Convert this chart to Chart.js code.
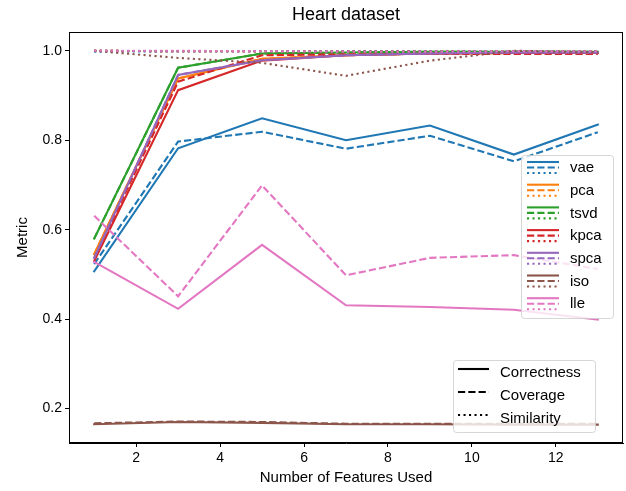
<!DOCTYPE html>
<html>
<head>
<meta charset="utf-8">
<script src="https://cdn.jsdelivr.net/npm/chart.js@4.4.1/dist/chart.umd.min.js"></script>
<style>
html,body{margin:0;padding:0;background:#fff;}
#wrap{width:626px;height:491px;position:relative;}
</style>
</head>
<body>
<div id="wrap"><canvas id="c" width="626" height="491"></canvas></div>
<script>
const xValues = [1, 3, 5, 7, 9, 11, 13];
const methods = ["vae", "pca", "tsvd", "kpca", "spca", "iso", "lle"];
const metrics = ["Correctness", "Coverage", "Similarity"];
const xTicks = [2, 4, 6, 8, 10, 12];
const yTicks = [0.2, 0.4, 0.6, 0.8, 1.0];

const vaeCorrectness = [0.507, 0.782, 0.849, 0.800, 0.833, 0.768, 0.835];
const vaeCoverage    = [0.523, 0.797, 0.819, 0.781, 0.810, 0.753, 0.818];
const vaeSimilarity  = [0.998, 0.999, 0.999, 0.999, 0.999, 0.999, 0.999];

const pcaCorrectness = [0.545, 0.938, 0.982, 0.990, 0.994, 0.995, 0.995];
const pcaCoverage    = [0.545, 0.938, 0.982, 0.990, 0.994, 0.995, 0.995];
const pcaSimilarity  = [1.000, 0.999, 0.999, 0.999, 0.999, 0.999, 0.999];

const tsvdCorrectness = [0.580, 0.962, 0.994, 0.996, 0.998, 0.998, 0.998];
const tsvdCoverage    = [0.580, 0.962, 0.994, 0.996, 0.998, 0.998, 0.998];
const tsvdSimilarity  = [1.000, 0.999, 0.999, 0.999, 0.999, 0.999, 0.999];

const kpcaCorrectness = [0.530, 0.912, 0.978, 0.990, 0.994, 0.995, 0.995];
const kpcaCoverage    = [0.535, 0.931, 0.990, 0.992, 0.993, 0.993, 0.993];
const kpcaSimilarity  = [1.000, 0.999, 0.999, 0.999, 0.999, 0.999, 0.999];

const spcaCorrectness = [0.537, 0.946, 0.979, 0.990, 0.994, 0.996, 0.996];
const spcaCoverage    = [0.537, 0.946, 0.979, 0.990, 0.994, 0.996, 0.996];
const spcaSimilarity  = [1.000, 0.999, 0.999, 0.999, 0.999, 0.999, 0.999];

const isoCorrectness = [0.165, 0.170, 0.168, 0.165, 0.165, 0.164, 0.164];
const isoCoverage    = [0.167, 0.171, 0.170, 0.166, 0.166, 0.166, 0.166];
const isoSimilarity  = [1.000, 0.984, 0.973, 0.944, 0.978, 1.000, 0.997];

const lleCorrectness = [0.528, 0.423, 0.566, 0.431, 0.427, 0.421, 0.399];
const lleCoverage    = [0.631, 0.451, 0.699, 0.498, 0.537, 0.543, 0.512];
const lleSimilarity  = [1.000, 1.000, 0.999, 0.998, 0.998, 0.999, 0.999];

const seriesByMethod = {
  vae: [vaeCorrectness, vaeCoverage, vaeSimilarity],
  pca: [pcaCorrectness, pcaCoverage, pcaSimilarity],
  tsvd: [tsvdCorrectness, tsvdCoverage, tsvdSimilarity],
  kpca: [kpcaCorrectness, kpcaCoverage, kpcaSimilarity],
  spca: [spcaCorrectness, spcaCoverage, spcaSimilarity],
  iso: [isoCorrectness, isoCoverage, isoSimilarity],
  lle: [lleCorrectness, lleCoverage, lleSimilarity]
};

const colors = {
  vae: "#1f77b4", pca: "#ff7f0e", tsvd: "#2ca02c", kpca: "#d62728",
  spca: "#9467bd", iso: "#8c564b", lle: "#e377c2"
};
const dashes = [[], [7.2, 3.1], [2.1, 3.4]];
const LW = 2.1;
const FONT = "'Liberation Sans', Arial, Helvetica, sans-serif";

const datasets = [];
let idx = 0;
const total = methods.length * metrics.length;
methods.forEach(m => {
  metrics.forEach((met, k) => {
    datasets.push({
      label: m + " " + met,
      data: xValues.map((x, i) => ({x: x, y: seriesByMethod[m][k][i]})),
      borderColor: colors[m],
      backgroundColor: colors[m],
      borderWidth: LW,
      borderDash: dashes[k],
      borderCapStyle: k === 0 ? "square" : "butt",
      pointRadius: 0,
      tension: 0,
      fill: false,
      order: total - idx
    });
    idx++;
  });
});

function drawLegendBox(ctx, x, y, w, h) {
  const r = 3;
  ctx.save();
  ctx.beginPath();
  ctx.moveTo(x + r, y);
  ctx.lineTo(x + w - r, y);
  ctx.quadraticCurveTo(x + w, y, x + w, y + r);
  ctx.lineTo(x + w, y + h - r);
  ctx.quadraticCurveTo(x + w, y + h, x + w - r, y + h);
  ctx.lineTo(x + r, y + h);
  ctx.quadraticCurveTo(x, y + h, x, y + h - r);
  ctx.lineTo(x, y + r);
  ctx.quadraticCurveTo(x, y, x + r, y);
  ctx.closePath();
  ctx.fillStyle = "rgba(255,255,255,0.8)";
  ctx.fill();
  ctx.strokeStyle = "rgba(204,204,204,0.8)";
  ctx.lineWidth = 1;
  ctx.stroke();
  ctx.restore();
}

function seg(ctx, x1, x2, y, color, dash) {
  ctx.save();
  ctx.beginPath();
  ctx.setLineDash(dash);
  ctx.strokeStyle = color;
  ctx.lineWidth = LW;
  ctx.moveTo(x1, y);
  ctx.lineTo(x2, y);
  ctx.stroke();
  ctx.restore();
}

const decorPlugin = {
  id: "decor",
  afterDatasetsDraw(chart) {
    const ctx = chart.ctx;
    const a = chart.chartArea;
    ctx.save();
    ctx.strokeStyle = "#000";
    ctx.lineWidth = 1;
    ctx.strokeRect(Math.round(a.left) + 0.5, Math.round(a.top) + 0.5,
      Math.round(a.right - a.left) - 1, Math.round(a.bottom - a.top) - 1);
    ctx.restore();
    ctx.save();
    ctx.fillStyle = "#000";
    ctx.font = "18px " + FONT;
    ctx.textAlign = "center";
    ctx.textBaseline = "alphabetic";
    ctx.fillText("Heart dataset", (a.left + a.right) / 2, 20);
    ctx.restore();

    drawLegendBox(ctx, 521.5, 155.5, 92, 163);
    ctx.save();
    ctx.font = "15px " + FONT;
    ctx.fillStyle = "#000";
    ctx.textBaseline = "middle";
    methods.forEach((m, i) => {
      const yc = 168 + i * 22.7;
      seg(ctx, 527, 559, yc - 6, colors[m], []);
      seg(ctx, 527, 559, yc - 0.5, colors[m], dashes[1]);
      seg(ctx, 527, 559, yc + 5, colors[m], dashes[2]);
      ctx.fillText(m, 570, yc);
    });
    ctx.restore();

    drawLegendBox(ctx, 453.5, 360.5, 142, 72);
    ctx.save();
    ctx.font = "15px " + FONT;
    ctx.fillStyle = "#000";
    ctx.textBaseline = "middle";
    metrics.forEach((met, k) => {
      const yc = 373 + k * 23;
      seg(ctx, 458, 489, yc - 4, "#000", dashes[k]);
      ctx.fillText(met, 500, yc);
    });
    ctx.restore();
  }
};

new Chart(document.getElementById("c"), {
  type: "line",
  data: { datasets: datasets },
  options: {
    responsive: false,
    animation: false,
    events: [],
    layout: { padding: { left: 0, right: 3, top: 32, bottom: 0 } },
    plugins: { legend: { display: false }, tooltip: { enabled: false }, title: { display: false } },
    scales: {
      x: {
        type: "linear",
        min: 0.4, max: 13.6,
        afterBuildTicks: s => { s.ticks = xTicks.map(v => ({value: v})); },
        afterFit: s => { s.height = 48; },
        grid: { display: true, drawOnChartArea: false, drawTicks: true, tickLength: 4, color: "#000", tickColor: "#000" },
        border: { display: true, color: "#000", width: 1 },
        ticks: { color: "#000", font: { family: FONT, size: 14 }, padding: 3, maxRotation: 0, callback: v => String(v) },
        title: { display: true, text: "Number of Features Used", color: "#000", font: { family: FONT, size: 15 }, padding: { top: 2, bottom: 4 } }
      },
      y: {
        type: "linear",
        min: 0.123, max: 1.042,
        afterBuildTicks: s => { s.ticks = yTicks.map(v => ({value: v})); },
        afterFit: s => { s.width = 69; },
        grid: { display: true, drawOnChartArea: false, drawTicks: true, tickLength: 4, color: "#000", tickColor: "#000" },
        border: { display: true, color: "#000", width: 1 },
        ticks: { color: "#000", font: { family: FONT, size: 14 }, padding: 3, callback: v => v.toFixed(1) },
        title: { display: true, text: "Metric", color: "#000", font: { family: FONT, size: 15 }, padding: { top: 14, bottom: 6 } }
      }
    }
  },
  plugins: [decorPlugin]
});
</script>
</body>
</html>
